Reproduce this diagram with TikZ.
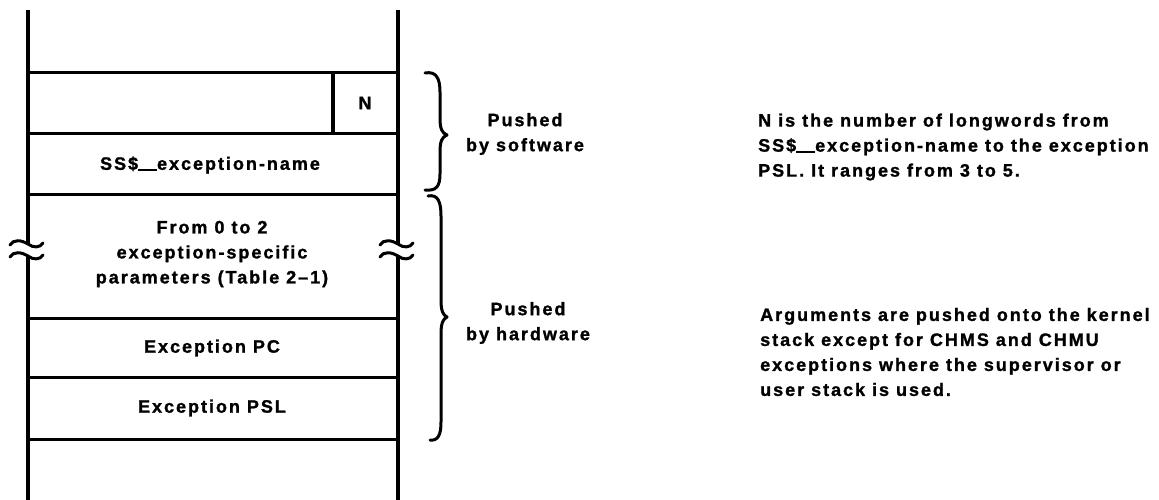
\documentclass[tikz,border=0pt]{standalone}
\usepackage{fontspec}
\setmainfont{Liberation Sans}[LetterSpace=11, BoldFeatures={FakeBold=1.3}]
\newcommand{\uscore}{\rule[-1pt]{19pt}{2pt}}
\begin{document}
\begin{tikzpicture}[x=1pt,y=-1pt,
  wall/.style={line width=3.5pt},
  sep/.style={line width=3pt},
  brc/.style={line width=3pt, line cap=round, line join=round},
  wave/.style={line width=3pt, line cap=round},
  lbl/.style={inner sep=0pt, font=\bfseries\fontsize{18}{25}\selectfont, align=center},
  note/.style={inner sep=0pt, font=\bfseries\fontsize{18}{25}\selectfont, align=left, anchor=west}]
\useasboundingbox (0,0) rectangle (1159,499);

% stack walls, broken at the break marks
\coordinate (lt) at (28,10);  \coordinate (lb) at (28,505);
\coordinate (rt) at (398,10); \coordinate (rb) at (398,505);
\draw[wall] (lt) -- (28,244);
\draw[wall] (28,256) -- (lb);
\draw[wall] (rt) -- (398,244);
\draw[wall] (398,256) -- (rb);

% longword separators
\foreach \y in {72,133,194,318,377,439}
  \draw[sep] (28,\y) -- (398,\y);
\draw[wall] (333,72) -- (333,133);

% break marks on both walls
\foreach \x in {28,398}
  \foreach \y in {244,256}
    \draw[wave] (\x-18,\y+1) .. controls (\x-15,\y-5) and (\x-6,\y-4) .. (\x,\y)
                .. controls (\x+5,\y+4) and (\x+12,\y+4) .. (\x+15,\y-1);

% stack contents
\node[lbl] (n) at (365,103) {N};
\node[lbl] (name) at (210,165) {SS\$\uscore exception-name};
\node[lbl] (params) at (212,254) {From 0 to 2\\exception-specific\\parameters (Table 2--1)};
\node[lbl] (pc) at (212,348) {Exception PC};
\node[lbl] (psl) at (212,408) {Exception PSL};

% braces
\coordinate (sw1) at (425,73);
\coordinate (sw2) at (425,190);
\draw[brc] (sw1) .. controls (436,71) and (440,78) .. (440,92) -- (440,118)
           .. controls (440,129) and (442,133) .. (447,135)
           .. controls (442,137) and (440,141) .. (440,152) -- (440,174)
           .. controls (440,187) and (436,191) .. (sw2);
\coordinate (hw1) at (428,196);
\coordinate (hw2) at (430,440);
\draw[brc] (hw1) .. controls (438,194) and (441,202) .. (441,216) -- (441,300)
           .. controls (441,311) and (443,315) .. (447,317)
           .. controls (443,319) and (441,323) .. (441,334) -- (441,422)
           .. controls (441,435) and (438,441) .. (hw2);

\node[lbl] (soft) at (525,134) {Pushed\\by software};
\node[lbl] (hard) at (528,323) {Pushed\\by hardware};

% notes
\node[note] (noteN) at (758,147) {N is the number of longwords from\\SS\$\uscore exception-name to the exception\\PSL. It ranges from 3 to 5.};
\node[note] (noteA) at (760,352) {Arguments are pushed onto the kernel\\stack except for CHMS and CHMU\\exceptions where the supervisor or\\user stack is used.};
\end{tikzpicture}
\end{document}
